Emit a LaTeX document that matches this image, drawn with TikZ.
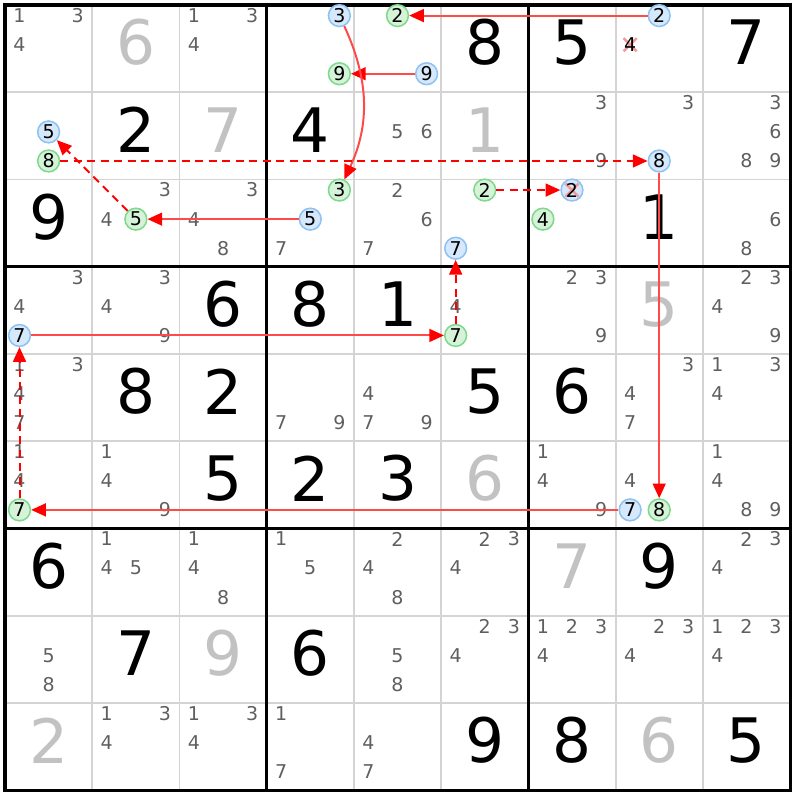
\documentclass[tikz,border=0pt]{standalone}
\usepackage{fontspec}
\setmainfont{DejaVu Sans}
\usetikzlibrary{arrows.meta}

\definecolor{candgray}{HTML}{5F5F5F}
\definecolor{solvedgray}{HTML}{C2C2C2}
\definecolor{gridgray}{HTML}{D4D4D4}
\definecolor{bluefill}{HTML}{D6E8FB}
\definecolor{blueline}{HTML}{8DC2F2}
\definecolor{greenfill}{HTML}{D6F3DA}
\definecolor{greenline}{HTML}{7FD98D}
\definecolor{crosspink}{HTML}{F29A9A}
\definecolor{linkred}{HTML}{FF4A4A}

\tikzset{
  given/.style={font=\fontsize{20}{24}\selectfont, inner sep=0pt},
  solved/.style={given, text=solvedgray},
  cand/.style={font=\fontsize{6.2}{7}\selectfont, text=candgray, inner sep=0pt},
  bluecand/.style={cand, text=black, circle, draw=blueline, fill=bluefill,
    minimum size=0.25cm, line width=0.5pt},
  greencand/.style={bluecand, draw=greenline, fill=greenfill},
  % pink cross under the digit
  crossed/.style={path picture={
    \draw[draw=crosspink, line width=0.8pt]
      (path picture bounding box.center) +(-0.075,-0.075) -- +(0.075,0.075)
      +(-0.075,0.075) -- +(0.075,-0.075);}},
  stronglink/.style={draw=linkred, line width=0.65pt,
    -{Triangle[length=4.8pt,width=4.2pt,color=red]}},
  weaklink/.style={stronglink, draw=red, dash pattern=on 2.6pt off 1.8pt}
}

% candidate k of cell (r,c), named rRcCnK
\newcommand{\hcand}[4]{\node[#1] (r#2c#3n#4) at
  ({#3-1+(mod(#4-1,3)+0.5)/3},{10-#2-(floor((#4-1)/3)+0.5)/3+0.045}) {#4};}

\begin{document}
\begin{tikzpicture}
  \useasboundingbox (-0.057,-0.114) rectangle (9.08,9.057);
  % grid
  \foreach \i in {1,...,8}{
    \draw[gridgray, line width=0.6pt] (\i,0) -- (\i,9);
    \draw[gridgray, line width=0.6pt] (0,\i) -- (9,\i);
  }
  \foreach \i in {3,6}{
    \draw[line width=1pt] (\i,0) -- (\i,9);
    \draw[line width=1pt] (0,\i) -- (9,\i);
  }
  \draw[line width=1pt] (0,0) rectangle (9,9);

  % givens and solved cells
  \foreach \r/\c/\d in {1/6/8, 1/7/5, 1/9/7, 2/2/2, 2/4/4, 3/1/9, 3/8/1,
      4/3/6, 4/4/8, 4/5/1, 5/2/8, 5/3/2, 5/6/5, 5/7/6, 6/3/5, 6/4/2, 6/5/3,
      7/1/6, 7/8/9, 8/2/7, 8/4/6, 9/6/9, 9/7/8, 9/9/5}
    \node[given] (g-\r-\c) at (\c-0.5,9.57-\r) {\d};
  \foreach \r/\c/\d in {1/2/6, 2/3/7, 2/6/1, 4/8/5, 6/6/6, 7/7/7, 8/3/9,
      9/1/2, 9/8/6}
    \node[solved] (g-\r-\c) at (\c-0.5,9.57-\r) {\d};

  % pencil marks
  \foreach \r/\c/\ds in {1/1/{1,3,4}, 1/3/{1,3,4},
      2/5/{5,6}, 2/7/{3,9}, 2/8/{3}, 2/9/{3,6,8,9},
      3/2/{3,4}, 3/3/{3,4,8}, 3/4/{7}, 3/5/{2,6,7}, 3/9/{6,8},
      4/1/{3,4}, 4/2/{3,4,9}, 4/6/{4}, 4/7/{2,3,9}, 4/9/{2,3,4,9},
      5/1/{1,3,4,7}, 5/4/{7,9}, 5/5/{4,7,9}, 5/8/{3,4,7}, 5/9/{1,3,4},
      6/1/{1,4}, 6/2/{1,4,9}, 6/7/{1,4,9}, 6/8/{4}, 6/9/{1,4,8,9},
      7/2/{1,4,5}, 7/3/{1,4,8}, 7/4/{1,5}, 7/5/{2,4,8}, 7/6/{2,3,4}, 7/9/{2,3,4},
      8/1/{5,8}, 8/5/{5,8}, 8/6/{2,3,4}, 8/7/{1,2,3,4}, 8/8/{2,3,4}, 8/9/{1,2,3,4},
      9/2/{1,3,4}, 9/3/{1,3,4}, 9/4/{1,7}, 9/5/{4,7}}{
    \foreach \k in \ds {\hcand{cand}{\r}{\c}{\k}}
  }

  % chain candidates
  \hcand{bluecand}{1}{4}{3}  \hcand{greencand}{1}{4}{9}
  \hcand{greencand}{1}{5}{2} \hcand{bluecand}{1}{5}{9}
  \hcand{bluecand}{1}{8}{2}
  \hcand{cand, text=black, fill=white, inner sep=1.2pt, crossed}{1}{8}{4}
  \hcand{bluecand}{2}{1}{5}  \hcand{greencand}{2}{1}{8}
  \hcand{bluecand}{2}{8}{8}
  \hcand{greencand}{3}{2}{5}
  \hcand{greencand}{3}{4}{3} \hcand{bluecand}{3}{4}{5}
  \hcand{greencand}{3}{6}{2} \hcand{bluecand}{3}{6}{7}
  \hcand{bluecand, crossed}{3}{7}{2}  \hcand{greencand}{3}{7}{4}
  \hcand{bluecand}{4}{1}{7}
  \hcand{greencand}{4}{6}{7}
  \hcand{greencand}{6}{1}{7}
  \hcand{bluecand}{6}{8}{7}  \hcand{greencand}{6}{8}{8}

  % links
  \draw[stronglink] (r1c8n2) -- (r1c5n2);
  \draw[stronglink] (r1c5n9) -- (r1c4n9);
  \draw[stronglink] (r1c4n3) to[bend left=25] (r3c4n3);
  \draw[stronglink] (r3c4n5) -- (r3c2n5);
  \draw[weaklink] (r3c2n5) -- (r2c1n5);
  \draw[weaklink] (r2c1n8) -- (r2c8n8);
  \draw[stronglink] (r2c8n8) -- (r6c8n8);
  \draw[stronglink] (r6c8n7) -- (r6c1n7);
  \draw[weaklink] (r6c1n7) -- (r4c1n7);
  \draw[stronglink] (r4c1n7) -- (r4c6n7);
  \draw[weaklink] (r4c6n7) -- (r3c6n7);
  \draw[weaklink] (r3c6n2) -- (r3c7n2);
\end{tikzpicture}
\end{document}
